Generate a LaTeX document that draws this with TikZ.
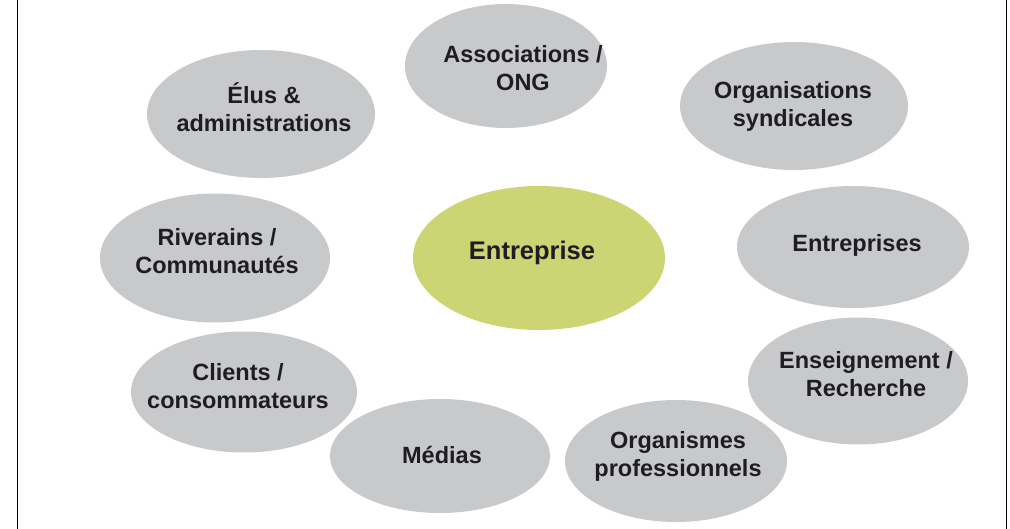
\documentclass[tikz,border=0pt]{standalone}
\usepackage{fontspec}
\setmainfont{Liberation Sans}
\usetikzlibrary{shapes.geometric}
\definecolor{grisbulle}{RGB}{200,201,203}
\definecolor{vertbulle}{RGB}{205,212,115}
\definecolor{encre}{RGB}{30,28,36}
\begin{document}
\begin{tikzpicture}[x=1pt,y=-1pt,
        bulle/.style={ellipse, fill=grisbulle, inner sep=0pt},
        coeur/.style={ellipse, fill=vertbulle, inner sep=0pt},
        etiquette/.style={align=center, text=encre, inner sep=0pt, font=\fontsize{23.5}{28}\selectfont\bfseries}]
        \useasboundingbox (0,0) rectangle (1010,529);
        \draw[line width=1.8pt] (17.5,0) -- (17.5,529);
        \draw[line width=1pt] (1006.5,0) -- (1006.5,529);
        % bulles
        \node[bulle, minimum width=202pt, minimum height=124pt] (asso) at (506,66) {};
        \node[bulle, minimum width=228pt, minimum height=128pt] (elus) at (261,114) {};
        \node[bulle, minimum width=228pt, minimum height=128pt] (synd) at (794,106) {};
        \node[bulle, minimum width=230pt, minimum height=129pt] (riv) at (215,258) {};
        \node[coeur, minimum width=252pt, minimum height=144pt] (ent) at (539,258) {};
        \node[bulle, minimum width=232pt, minimum height=122pt] (ents) at (853,247) {};
        \node[bulle, minimum width=226pt, minimum height=121pt] (cli) at (244,392) {};
        \node[bulle, minimum width=220pt, minimum height=114pt] (med) at (440,456) {};
        \node[bulle, minimum width=222pt, minimum height=122pt] (orga) at (676,461) {};
        \node[bulle, minimum width=220pt, minimum height=127pt] (ens) at (858,381) {};
        % textes
        \node[etiquette] (asso-t) at (523,68) {Associations /\\ONG};
        \node[etiquette] (elus-t) at (264,107) {Élus \&\\administrations};
        \node[etiquette] (synd-t) at (793,106) {Organisations\\syndicales};
        \node[etiquette] (riv-t) at (217,251) {Riverains /\\Communautés};
        \node[etiquette, font=\fontsize{25.5}{30}\selectfont\bfseries] (ent-t) at (532,253) {Entreprise};
        \node[etiquette] (ents-t) at (857,245) {Entreprises};
        \node[etiquette] (cli-t) at (238,386) {Clients /\\consommateurs};
        \node[etiquette] (med-t) at (442,455) {Médias};
        \node[etiquette] (orga-t) at (678,456) {Organismes\\professionnels};
        \node[etiquette] (ens-t) at (866,374) {Enseignement /\\Recherche};
\end{tikzpicture}
\end{document}
